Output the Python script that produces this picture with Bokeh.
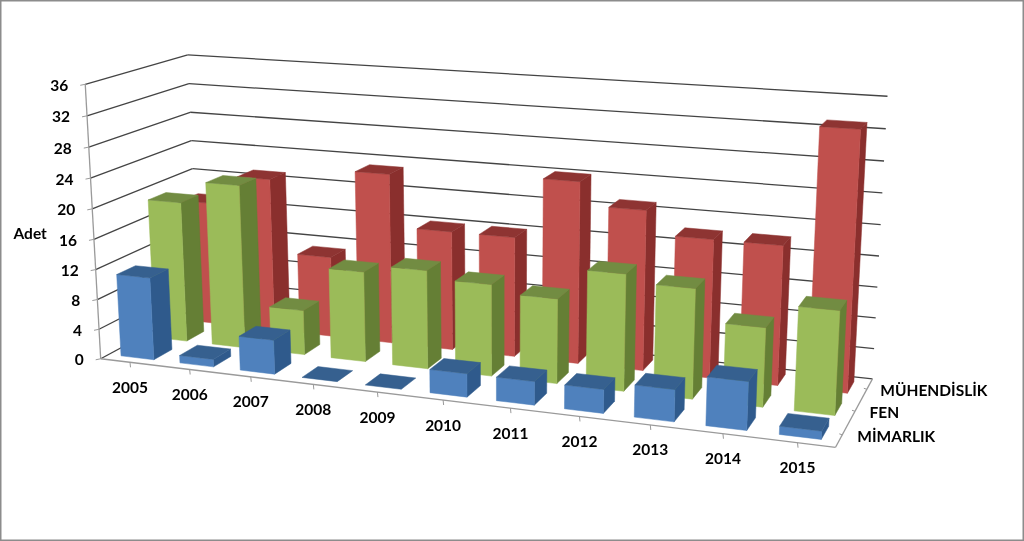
import numpy as np
from bokeh.plotting import figure
from bokeh.models import ColumnDataSource, Range1d
from bokeh.core.properties import value
from bokeh.embed import file_html
from bokeh.resources import INLINE

years = ["2005","2006","2007","2008","2009","2010","2011","2012","2013","2014","2015"]
series_names = ["MİMARLIK","FEN","MÜHENDİSLİK"]
mimarlik = [11,1,4.5,0,0,3,3,3,4,6,1]
fen = [19,22,6,12,13,12,11,15,14,10,13]
muhendislik = [17,21,11,23,16,16,24,21,18,18,33]
y_ticks = [0,4,8,12,16,20,24,28,32,36]
series_values = [mimarlik, fen, muhendislik]

colors = [("#4F81BD","#36608F","#2F5A8C"),
          ("#9BBB59","#728C42","#657F35"),
          ("#C0504D","#8E3432","#8A2F2D")]

# Camera calibration: (u across, v height, w depth) <-> page pixels
cal3 = [(0,0,0),(0,1,0),(0,0,1),(0,1,1),(1,0,1),(1,1,1),(1,0,0)]
cal2 = [(100,357),(85,84),(198,307),(187,54),(872,377),(887,96),(835,448)]
A = []
for (u,v,w),(x,y) in zip(cal3,cal2):
    A.append([u,v,w,1,0,0,0,0,-x*u,-x*v,-x*w,-x])
    A.append([0,0,0,0,u,v,w,1,-y*u,-y*v,-y*w,-y])
H = np.linalg.svd(np.array(A,float))[2][-1].reshape(3,4)

def proj(cat, val, dep):
    """cat in category units, val in axis units, dep in series-cell units"""
    q = H @ np.array([cat/len(years), val/y_ticks[-1], dep/len(series_names), 1.0])
    return q[0]/q[2], q[1]/q[2]

p = figure(width=1024, height=541, output_backend="svg", toolbar_location=None,
           x_range=Range1d(0,1024), y_range=Range1d(541,0), x_axis_type=None, y_axis_type=None,
           min_border=0, outline_line_color="#8c8c8c", outline_line_width=2,
           background_fill_color="white", border_fill_color="white",
           styles={"position":"fixed","left":"0px","top":"0px"})
p.grid.visible = False

def seg(a, b, color, width=1.0):
    p.line([a[0],b[0]],[a[1],b[1]],line_color=color,line_width=width)

GRID = "#444444"; AXIS = "#9a9a9a"
nc, ns = len(years), len(series_names)
for t in y_ticks:
    seg(proj(0,t,0),proj(0,t,ns),GRID,1.3)
    seg(proj(0,t,ns),proj(nc,t,ns),GRID,1.3)
    a = proj(0,t,0)
    seg((a[0]-5,a[1]+1),a,AXIS)
seg(proj(0,0,0),proj(0,y_ticks[-1],0),AXIS,1.3)
seg(proj(0,0,0),proj(nc,0,0),AXIS,1.3)
seg(proj(nc,0,0),proj(nc,0,ns),AXIS,1.3)
for i in range(nc):
    a = proj(i+.5,0,0); seg(a,(a[0]+.5,a[1]+5),AXIS)
for s in range(ns):
    a = proj(nc,0,s+.5); seg(a,(a[0]-3,a[1]-1),AXIS)

BW, DG = 0.28, 0.23
xs, ys, fc = [], [], []
def face(pts, c):
    xs.append([q[0] for q in pts]); ys.append([q[1] for q in pts]); fc.append(c)
for s in reversed(range(ns)):
    for i in range(nc):
        v = series_values[s][i]
        c0,c1 = i+.5-BW-0.01, i+.5+BW-0.01
        d0,d1 = s+DG, s+1-DG
        if v > 0:
            face([proj(c1,0,d0),proj(c1,0,d1),proj(c1,v,d1),proj(c1,v,d0)], colors[s][2])
            face([proj(c0,0,d0),proj(c1,0,d0),proj(c1,v,d0),proj(c0,v,d0)], colors[s][0])
        face([proj(c0,v,d0),proj(c1,v,d0),proj(c1,v,d1),proj(c0,v,d1)], colors[s][1])
src = ColumnDataSource(dict(xs=xs,ys=ys,fc=fc))
p.patches("xs","ys",source=src,fill_color="fc",line_color="fc",line_width=0.5)

FONT = value("Lato")
def label(xv,yv,txt,align,size="15.5px"):
    p.text(xv,yv,text=txt,text_font=FONT,text_font_style="bold",text_font_size=size,
           text_color="#000000",text_align=align,text_baseline="middle")

pts = [proj(0,t,0) for t in y_ticks]
label([q[0]-17 for q in pts],[q[1]+1 for q in pts],[str(t) for t in y_ticks],"right")
pts = [proj(i+.5,0,0) for i in range(nc)]
label([q[0] for q in pts],[q[1]+25 for q in pts],years,"center")
dx = [15, 14.5, 13.5]
pts = [proj(nc,0,s+.5) for s in range(ns)]
label([q[0]+d for q,d in zip(pts,dx)],[q[1]+1 for q in pts],series_names,"left")
label([13],[232],["Adet"],"left")

open("out.html","w").write(file_html(p, INLINE))
